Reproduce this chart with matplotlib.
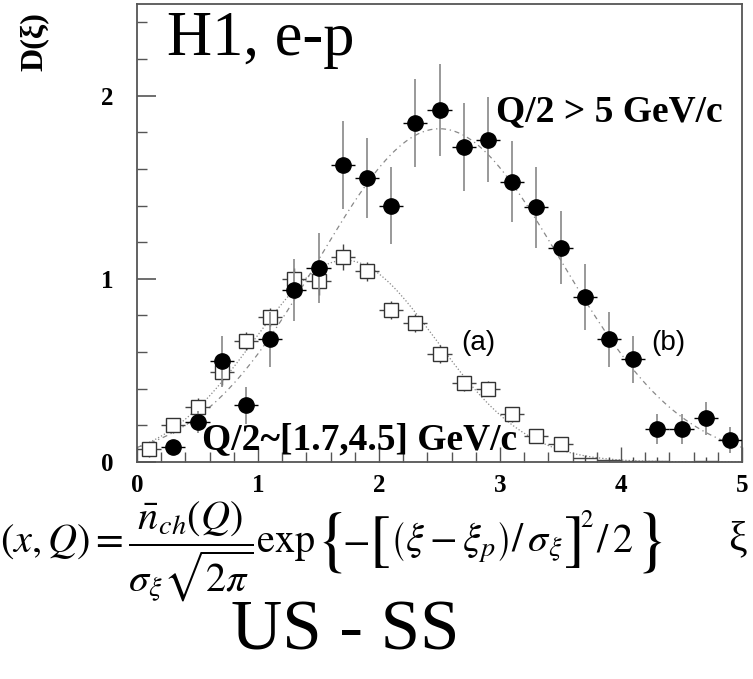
import numpy as np
import matplotlib.pyplot as plt

# (b) Q/2 > 5 GeV/c  -- filled circles
xi_b = [0.3, 0.5, 0.7, 0.9, 1.1, 1.3, 1.5, 1.7, 1.9, 2.1, 2.3, 2.5,
        2.7, 2.9, 3.1, 3.3, 3.5, 3.7, 3.9, 4.1, 4.3, 4.5, 4.7, 4.9]
d_b = [0.08, 0.22, 0.55, 0.31, 0.67, 0.94, 1.06, 1.62, 1.55, 1.40, 1.85, 1.92,
       1.72, 1.76, 1.53, 1.39, 1.17, 0.90, 0.67, 0.56, 0.18, 0.18, 0.24, 0.12]
err_b = [0.04, 0.06, 0.14, 0.10, 0.15, 0.17, 0.19, 0.24, 0.22, 0.21, 0.24, 0.25,
         0.24, 0.23, 0.22, 0.22, 0.20, 0.18, 0.15, 0.13, 0.08, 0.08, 0.09, 0.07]

# (a) Q/2 ~ [1.7,4.5] GeV/c  -- open squares
xi_a = [0.1, 0.3, 0.5, 0.7, 0.9, 1.1, 1.3, 1.5, 1.7, 1.9, 2.1, 2.3,
        2.5, 2.7, 2.9, 3.1, 3.3, 3.5]
d_a = [0.07, 0.20, 0.30, 0.49, 0.66, 0.79, 1.00, 0.99, 1.12, 1.04, 0.83, 0.76,
       0.59, 0.43, 0.40, 0.26, 0.14, 0.10]
err_a = [0.04, 0.04, 0.05, 0.07, 0.05, 0.05, 0.06, 0.08, 0.07, 0.05, 0.05, 0.05,
         0.05, 0.04, 0.04, 0.04, 0.03, 0.03]
# near-zero bins of (a), drawn without marker
xi_a_tail = [3.7, 3.9, 4.1, 4.3, 4.7]
d_a_tail = [0.02, 0.01, 0.005, 0.005, 0.005]

# gaussian fit parameters (n_ch, xi_p, sigma)
fit_a = (2.07, 1.72, 0.75)
fit_b = (4.56, 2.50, 1.00)

plt.rcParams['font.family'] = ['Liberation Serif', 'DejaVu Serif']
plt.rcParams['mathtext.fontset'] = 'stix'

fig = plt.figure(figsize=(7.53, 6.79), dpi=100)
ax = fig.add_axes([137 / 753, 1 - 462 / 679, 605 / 753, 458 / 679])

# fit curves
xx = np.linspace(0, 5, 300)
for (n, xp, s), ls in [(fit_a, ':'), (fit_b, (0, (4, 3, 1, 3)))]:
    yy = n / (s * np.sqrt(2 * np.pi)) * np.exp(-((xx - xp) / s) ** 2 / 2)
    ax.plot(xx, yy, color='#888888', lw=0.9, ls=ls, zorder=1)

# open squares
ax.errorbar(xi_a, d_a, xerr=0.1, yerr=err_a, fmt='s', mfc='white', mec='#333333',
            mew=1.0, ms=10, ecolor='#444444', elinewidth=1.0, capsize=0, zorder=2)
ax.errorbar(xi_a_tail, d_a_tail, xerr=0.1, yerr=0.02, fmt='none',
            ecolor='#444444', elinewidth=1.0, capsize=0, zorder=2)

# filled circles
ax.errorbar(xi_b, d_b, yerr=err_b, fmt='none', ecolor='#888888',
            elinewidth=1.2, capsize=0, zorder=3)
ax.errorbar(xi_b, d_b, xerr=0.1, fmt='o', color='black', ms=11,
            ecolor='black', elinewidth=1.0, capsize=0, zorder=4)

ax.set_xlim(0, 5)
ax.set_ylim(0, 2.5)
ax.set_xticks([0, 1, 2, 3, 4, 5])
ax.set_xticks(np.arange(0, 5.01, 0.2), minor=True)
ax.set_yticks([0, 1, 2])
ax.set_yticks(np.arange(0, 2.51, 0.2), minor=True)
ax.tick_params(axis='both', which='both', direction='in', color='#555555',
               top=False, right=False)
ax.tick_params(axis='y', which='major', length=14, width=1.2, pad=17)
ax.tick_params(axis='y', which='minor', length=7, width=1.0)
ax.tick_params(axis='x', which='major', length=11, width=1.0, pad=9)
ax.tick_params(axis='x', which='minor', length=7, width=1.0)
for lab in ax.get_xticklabels() + ax.get_yticklabels():
    lab.set_fontsize(18)
    lab.set_fontweight('bold')
for sp in ax.spines.values():
    sp.set_color('#555555')
    sp.set_linewidth(1.3)

# annotations inside the frame
ax.text(0.05, 0.985, 'H1, e-p', transform=ax.transAxes, fontsize=45,
        ha='left', va='top')
ax.text(2.97, 1.91, 'Q/2 > 5 GeV/c', fontsize=27, fontweight='bold',
        ha='left', va='center')
ax.text(0.54, 0.12, 'Q/2~[1.7,4.5] GeV/c', fontsize=27, fontweight='bold',
        ha='left', va='center')
ax.text(2.68, 0.65, '(a)', fontsize=20, family=['Liberation Sans', 'DejaVu Sans'],
        ha='left', va='center')
ax.text(4.25, 0.65, '(b)', fontsize=20, family=['Liberation Sans', 'DejaVu Sans'],
        ha='left', va='center')

# texts around the frame
fig.text(34 / 753, 1 - 42 / 679, 'D(ξ)', rotation=90, fontsize=23,
         fontweight='bold', ha='center', va='center')
fig.text(737 / 753, 1 - 540 / 679, 'ξ', fontsize=30, ha='center', va='center')
fig.text(345 / 753, 1 - 632 / 679, 'US - SS', fontsize=51, ha='center',
         va='center')

# formula, laid out piece by piece so that the delimiters can be large
W, H = fig.bbox.width, fig.bbox.height
base_y, mid_y = 552, 543
pieces = [
    (r'$(x,Q)=\dfrac{\bar{n}_{ch}(Q)}{\sigma_\xi\sqrt{2\pi}}\mathrm{exp}$', 29, 'baseline', base_y, 0),
    (r'$\{$', 52, 'center', mid_y, 0),
    (r'$-$', 29, 'baseline', base_y, 0),
    (r'$[$', 45, 'center', mid_y, 0),
    (r'$\left(\xi-\xi_p\right)/\,\sigma_\xi$', 29, 'baseline', base_y, 0),
    (r'$]$', 45, 'center', mid_y, 0),
    (r'$2$', 18, 'baseline', 527, 2),
    (r'$/\,2$', 29, 'baseline', base_y, 0),
    (r'$\}$', 52, 'center', mid_y, 0),
]
renderer = fig.canvas.get_renderer()
cursor = 0
for s, fs, va, ypx, gap in pieces:
    t = fig.text(cursor / W, 1 - ypx / H, s, fontsize=fs, ha='left', va=va)
    cursor = t.get_window_extent(renderer).x1 + gap

fig.savefig('out.png', dpi=100)
